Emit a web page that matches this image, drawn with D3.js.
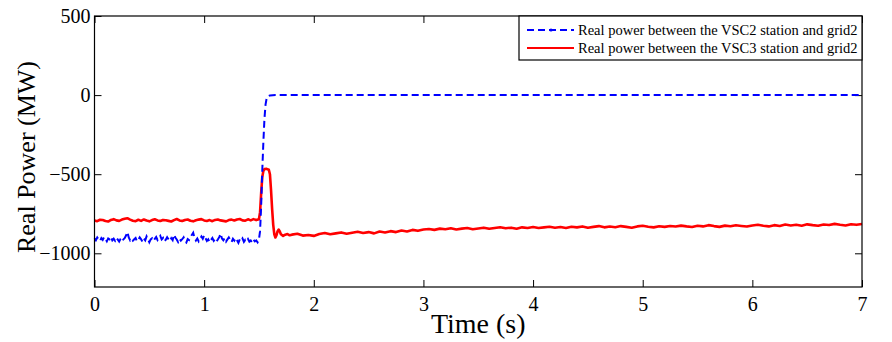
<!DOCTYPE html>
<html>
<head>
<meta charset="utf-8">
<script src="https://cdn.jsdelivr.net/npm/d3@7"></script>
<style>
  body { margin: 0; background: #fff; }
  svg { display: block; }
  .axis text { font-family: "Liberation Serif", "Times New Roman", serif; font-size: 20px; fill: #000; }
  .axis line { stroke: #000; }
</style>
</head>
<body>
<svg id="chart"></svg>
<script>
// ---- data ----
const xTicks = [0, 1, 2, 3, 4, 5, 6, 7];
const yTicks = [-1000, -500, 0, 500];
const seriesNames = [
  "Real power between the VSC2 station and grid2",
  "Real power between the VSC3 station and grid2"
];

// before the event: blue one sample every 0.0125 s, red every 0.025 s, from t = 0
const blueStep = 0.0125;
const preBlue = [
  -905, -918, -900, -912, -922, -904, -915, -898, -910, -925, -906, -912, -896, -918, -908, -921,
  -902, -914, -926, -909, -897, -912, -904, -888, -866, -900, -918, -907, -920, -911, -903, -924,
  -915, -899, -911, -927, -906, -918, -893, -910, -930, -912, -905, -921, -909, -897, -916, -904,
  -890, -912, -903, -926, -914, -898, -911, -923, -905, -917, -882, -900, -913, -928, -908, -920,
  -911, -899, -924, -932, -910, -916, -898, -884, -870, -902, -919, -906, -925, -911, -894, -908,
  -886, -905, -922, -912, -930, -916, -903, -921, -909, -925, -913, -898, -876, -907, -918, -904,
  -926, -912, -899, -915, -929, -908, -920, -903, -917, -934, -912, -921, -906, -928, -915, -924,
  -910, -926, -919, -932, -914, -925, -918, -930, -912
];
const redStep = 0.025;
const preRed = [
  -792, -797, -788, -790, -796, -799, -789, -784, -792, -795, -787, -782, -778, -787, -794, -797,
  -788, -795, -786, -793, -798, -790, -785, -792, -796, -789, -791, -795, -799, -790, -783, -792,
  -796, -789, -786, -794, -798, -791, -787, -784, -792, -796, -790, -797, -789, -786, -792, -795,
  -798, -790, -787, -793, -786, -783, -792, -794, -785, -792, -784, -790, -785
];

// the transient
const blueStepTime = [1.50, 1.51, 1.52, 1.53, 1.54, 1.55, 1.56, 1.57, 1.585, 1.60, 1.65, 7.00];
const blueStepPower = [-912, -860, -700, -480, -300, -150, -60, -20, -6, -2, 0, 0];

const redStepTime = [1.50, 1.51, 1.52, 1.53, 1.54, 1.55, 1.57, 1.59, 1.60, 1.61, 1.62, 1.63,
  1.64, 1.65, 1.66, 1.67, 1.68, 1.69, 1.70, 1.72, 1.74, 1.76, 1.78];
const redStepPower = [-785, -740, -620, -520, -480, -468, -466, -472, -500, -600, -720, -820,
  -880, -900, -885, -860, -850, -862, -880, -890, -882, -878, -886];

// after the event, one sample every 0.05 s from t = 1.80
const postStart = 1.80;
const postStep = 0.05;
const postRed = [
  -882, -876, -888, -884, -890, -878, -872, -880, -874, -868, -876, -870, -864, -872, -866, -874,
  -862, -868, -860, -866, -856, -862, -852, -858, -850, -846, -852, -844, -848, -842, -850, -844,
  -840, -848, -843, -838, -845, -840, -835, -842, -838, -845, -836, -840, -834, -840, -836, -832,
  -838, -834, -840, -832, -836, -830, -838, -833, -828, -836, -831, -835, -828, -833, -838, -830,
  -826, -832, -836, -829, -833, -827, -831, -825, -830, -834, -826, -830, -822, -828, -833, -825,
  -829, -823, -827, -831, -824, -820, -826, -830, -822, -827, -818, -824, -820, -826, -817, -822,
  -826, -818, -821, -814, -820, -824, -816, -820, -815
];

(function() {
  // ---- build the series ----
  const blue = preBlue.map((v, i) => ({ t: i * blueStep, v }))
    .concat(blueStepTime.map((t, i) => ({ t, v: blueStepPower[i] })));
  const red = preRed.map((v, i) => ({ t: i * redStep, v }))
    .concat(redStepTime.map((t, i) => ({ t, v: redStepPower[i] })))
    .concat(postRed.map((v, i) => ({ t: postStart + i * postStep, v })));

  // ---- layout ----
  const W = 892, H = 342;
  const pLeft = 94.5, pRight = 862, pTop = 16, pBottom = 287;
  const serif = '"Liberation Serif", "Times New Roman", serif';

  const svg = d3.select("#chart").attr("width", W).attr("height", H);
  svg.append("rect").attr("width", W).attr("height", H).attr("fill", "#fff");

  const x = d3.scaleLinear().domain([0, 7]).range([pLeft, pRight]);
  const y = d3.scaleLinear().domain([-1213, 500]).range([pBottom, pTop]);

  // axes, ticks pointing inward on all four sides
  svg.append("g").attr("class", "axis")
    .attr("transform", `translate(0,${pBottom})`)
    .call(d3.axisBottom(x).tickValues(xTicks).tickSize(-7).tickPadding(10).tickFormat(d3.format("d")));
  svg.append("g").attr("class", "axis")
    .attr("transform", `translate(0,${pTop})`)
    .call(d3.axisTop(x).tickValues(xTicks).tickSize(-7).tickFormat(""));
  svg.append("g").attr("class", "axis")
    .attr("transform", `translate(${pLeft},0)`)
    .call(d3.axisLeft(y).tickValues(yTicks).tickSize(-7).tickPadding(4).tickFormat(d3.format("d")));
  svg.append("g").attr("class", "axis")
    .attr("transform", `translate(${pRight},0)`)
    .call(d3.axisRight(y).tickValues(yTicks).tickSize(-7).tickFormat(""));
  svg.selectAll(".axis .domain").remove();

  // lines
  const line = d3.line().x(d => x(d.t)).y(d => y(d.v));

  svg.append("path")
    .datum(red)
    .attr("fill", "none")
    .attr("stroke", "#ff0000")
    .attr("stroke-width", 2.6)
    .attr("stroke-linejoin", "round")
    .attr("d", line);

  svg.append("path")
    .datum(blue)
    .attr("fill", "none")
    .attr("stroke", "#0000ff")
    .attr("stroke-width", 2)
    .attr("stroke-dasharray", "7,4")
    .attr("d", line);

  // box
  svg.append("rect")
    .attr("x", pLeft).attr("y", pTop)
    .attr("width", pRight - pLeft).attr("height", pBottom - pTop)
    .attr("fill", "none").attr("stroke", "#000").attr("stroke-width", 1.2);

  // axis titles
  svg.append("text")
    .attr("x", (pLeft + pRight) / 2)
    .attr("y", 333)
    .attr("text-anchor", "middle")
    .style("font-family", serif)
    .style("font-size", "28px")
    .text("Time (s)");

  svg.append("text")
    .attr("transform", "translate(35,157) rotate(-90)")
    .attr("text-anchor", "middle")
    .style("font-family", serif)
    .style("font-size", "26px")
    .text("Real Power (MW)");

  // legend
  const lg = svg.append("g");
  lg.append("rect")
    .attr("x", 519).attr("y", pTop)
    .attr("width", pRight - 519).attr("height", 44)
    .attr("fill", "#fff").attr("stroke", "#000").attr("stroke-width", 1.2);

  const legendRows = [
    { name: seriesNames[0], color: "#0000ff", dash: "7,4", y: 30 },
    { name: seriesNames[1], color: "#ff0000", dash: null, y: 48 }
  ];
  legendRows.forEach(r => {
    lg.append("line")
      .attr("x1", 527).attr("x2", 574)
      .attr("y1", r.y).attr("y2", r.y)
      .attr("stroke", r.color)
      .attr("stroke-width", r.dash ? 1.8 : 2)
      .attr("stroke-dasharray", r.dash);
    if (r.dash) {
      lg.append("circle").attr("cx", 551).attr("cy", r.y).attr("r", 1.6).attr("fill", r.color);
    }
    lg.append("text")
      .attr("x", 578).attr("y", r.y + 5)
      .style("font-family", serif)
      .style("font-size", "14.5px")
      .text(r.name);
  });
})();
</script>
</body>
</html>
